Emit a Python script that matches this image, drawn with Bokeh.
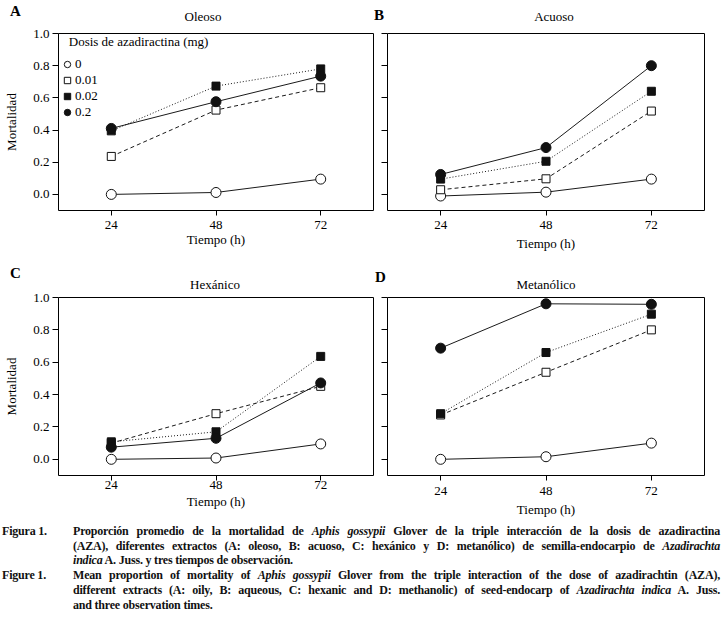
from bokeh.plotting import figure
from bokeh.models import Legend, LegendItem, Range1d, FixedTicker, Div, NumeralTickFormatter
from bokeh.layouts import column, row
from bokeh.embed import file_html
from bokeh.resources import INLINE

# ---------------- data ----------------
times = [24, 48, 72]
x_ticks = [24, 48, 72]
y_ticks = [0.0, 0.2, 0.4, 0.6, 0.8, 1.0]
doses = ["0", "0.01", "0.02", "0.2"]

# A: Oleoso
oleoso_0 = [0.0, 0.012, 0.095]
oleoso_001 = [0.236, 0.524, 0.663]
oleoso_002 = [0.395, 0.673, 0.78]
oleoso_02 = [0.41, 0.576, 0.735]
# B: Acuoso
acuoso_0 = [-0.01, 0.014, 0.095]
acuoso_001 = [0.029, 0.097, 0.518]
acuoso_002 = [0.095, 0.206, 0.641]
acuoso_02 = [0.124, 0.291, 0.80]
# C: Hexánico
hexanico_0 = [0.0, 0.008, 0.095]
hexanico_001 = [0.10, 0.282, 0.451]
hexanico_002 = [0.108, 0.17, 0.636]
hexanico_02 = [0.075, 0.13, 0.472]
# D: Metanólico
metanolico_0 = [0.0, 0.016, 0.10]
metanolico_001 = [0.274, 0.538, 0.80]
metanolico_002 = [0.282, 0.66, 0.897]
metanolico_02 = [0.687, 0.961, 0.958]

FONT = "Liberation Serif"
styles = {
    "0": dict(marker="circle", fill="white", dash="solid", size=10),
    "0.01": dict(marker="square", fill="white", dash="4 3", size=8),
    "0.02": dict(marker="square", fill="#111111", dash="1 2", size=8),
    "0.2": dict(marker="circle", fill="#111111", dash="solid", size=10),
}


def make_panel(series, show_ylab, fw, fh, bl, br, bt, bb,
               lab_standoff, axlab_standoff, legend=False):
    p = figure(output_backend="svg", toolbar_location=None,
               frame_width=fw, frame_height=fh,
               min_border_left=bl, min_border_right=br,
               min_border_top=bt, min_border_bottom=bb,
               x_range=Range1d(11.9, 84.1), y_range=Range1d(-0.1, 1.0),
               background_fill_color="white", border_fill_color="white")
    p.xgrid.visible = False
    p.ygrid.visible = False
    p.outline_line_color = "black"
    p.outline_line_width = 1
    p.outline_line_alpha = 1

    p.axis.axis_line_color = None
    p.axis.major_tick_line_color = "black"
    p.axis.minor_tick_line_color = None
    p.axis.major_tick_in = 0
    p.axis.major_label_text_font = FONT
    p.axis.major_label_text_font_size = "13px"
    p.axis.major_label_text_color = "black"
    p.axis.axis_label_text_font = FONT
    p.axis.axis_label_text_font_size = "13px"
    p.axis.axis_label_text_font_style = "normal"
    p.axis.axis_label_text_color = "black"

    p.xaxis.ticker = FixedTicker(ticks=x_ticks)
    p.xaxis.major_tick_out = 5
    p.xaxis.major_label_standoff = lab_standoff
    p.xaxis.axis_label = "Tiempo (h)"
    p.xaxis.axis_label_standoff = axlab_standoff

    p.yaxis.ticker = FixedTicker(ticks=y_ticks)
    p.yaxis.major_tick_out = 6
    p.yaxis.formatter = NumeralTickFormatter(format="0.0")
    if show_ylab:
        p.yaxis.axis_label = "Mortalidad"
        p.yaxis.major_label_standoff = 3
        p.yaxis.axis_label_standoff = 11
    else:
        p.yaxis.major_label_overrides = {t: "" for t in y_ticks}
        p.yaxis.major_label_standoff = 0

    items = []
    for d, vals in zip(doses, series):
        s = styles[d]
        p.line(times, vals, line_color="#1a1a1a", line_width=1, line_dash=s["dash"])
    for d, vals in zip(doses, series):
        s = styles[d]
        r = p.scatter(times, vals, marker=s["marker"], size=s["size"],
                      fill_color=s["fill"], line_color="#111111", line_width=1)
        items.append(LegendItem(label=d, renderers=[r]))

    if legend:
        lg = Legend(items=items, location="top_left",
                    title="\u00a0\u00a0\u00a0Dosis de azadiractina (mg)",
                    title_text_font=FONT, title_text_font_size="13px",
                    title_text_font_style="normal", title_text_color="black",
                    title_standoff=6,
                    label_text_font=FONT, label_text_font_size="13px",
                    label_text_color="black",
                    glyph_width=16, glyph_height=16, label_height=14,
                    label_standoff=0, spacing=0, padding=0, margin=1,
                    border_line_color=None, background_fill_alpha=0)
        p.add_layout(lg)
    return p


pA = make_panel([oleoso_0, oleoso_001, oleoso_002, oleoso_02],
                True, 315, 177, 58, 7, 8, 48, 5, 0, legend=True)
pB = make_panel([acuoso_0, acuoso_001, acuoso_002, acuoso_02],
                False, 317, 177, 7, 14, 8, 48, 5, 4)
pC = make_panel([hexanico_0, hexanico_001, hexanico_002, hexanico_02],
                True, 315, 178, 58, 7, 8, 43, 0, 2)
pD = make_panel([metanolico_0, metanolico_001, metanolico_002, metanolico_02],
                False, 317, 178, 7, 14, 8, 43, 6, 4)

span = ("position:absolute;white-space:nowrap;line-height:16px;color:black;"
        "font-family:'Liberation Serif';")


def header(h, entries):
    parts = []
    for txt, x, yc, kind in entries:
        if kind == "letter":
            parts.append(f'<span style="{span}font-size:15px;font-weight:bold;'
                         f'left:{x}px;top:{yc - 8}px;">{txt}</span>')
        else:
            parts.append(f'<span style="{span}font-size:13px;left:{x}px;top:{yc - 8}px;'
                         f'transform:translateX(-50%);">{txt}</span>')
    html = f'<div style="position:relative;width:722px;height:{h}px;">' + "".join(parts) + "</div>"
    return Div(text=html, width=722, height=h, margin=0)


head1 = header(25, [("A", 10, 11, "letter"), ("Oleoso", 203, 17, "title"),
                    ("B", 374, 15, "letter"), ("Acuoso", 554, 17, "title")])
head2 = header(31, [("C", 10, 15, "letter"), ("Hexánico", 215, 27, "title"),
                    ("D", 375, 19, "letter"), ("Metanólico", 546, 27, "title")])

line_style = "white-space:nowrap;text-align:justify;text-align-last:justify;width:647px;"
last_style = "white-space:nowrap;text-align:left;width:647px;"
cap = f"""
<div style="position:relative;left:2px;margin-top:5px;font-family:'Liberation Serif';font-weight:bold;font-size:12px;letter-spacing:-0.2px;line-height:14.7px;color:#111;width:718px;">
 <div style="display:flex;">
  <div style="width:71px;flex:none;">Figura 1.</div>
  <div>
   <div style="{line_style}">Proporción promedio de la mortalidad de <i>Aphis gossypii</i> Glover de la triple interacción de la dosis de azadiractina</div>
   <div style="{line_style}">(AZA), diferentes extractos (A: oleoso, B: acuoso, C: hexánico y D: metanólico) de semilla-endocarpio de <i>Azadirachta</i></div>
   <div style="{last_style}"><i>indica</i> A. Juss. y tres tiempos de observación.</div>
  </div>
 </div>
 <div style="display:flex;">
  <div style="width:71px;flex:none;">Figure 1.</div>
  <div>
   <div style="{line_style}">Mean proportion of mortality of <i>Aphis gossypii</i> Glover from the triple interaction of the dose of azadirachtin (AZA),</div>
   <div style="{line_style}">different extracts (A: oily, B: aqueous, C: hexanic and D: methanolic) of seed-endocarp of <i>Azadirachta indica</i> A. Juss.</div>
   <div style="{last_style}">and three observation times.</div>
  </div>
 </div>
</div>
"""
div = Div(text=cap, width=720, height=105, margin=0)

layout = column(head1, row(pA, pB), head2, row(pC, pD), div)
open("out.html", "w").write(file_html(layout, INLINE))
